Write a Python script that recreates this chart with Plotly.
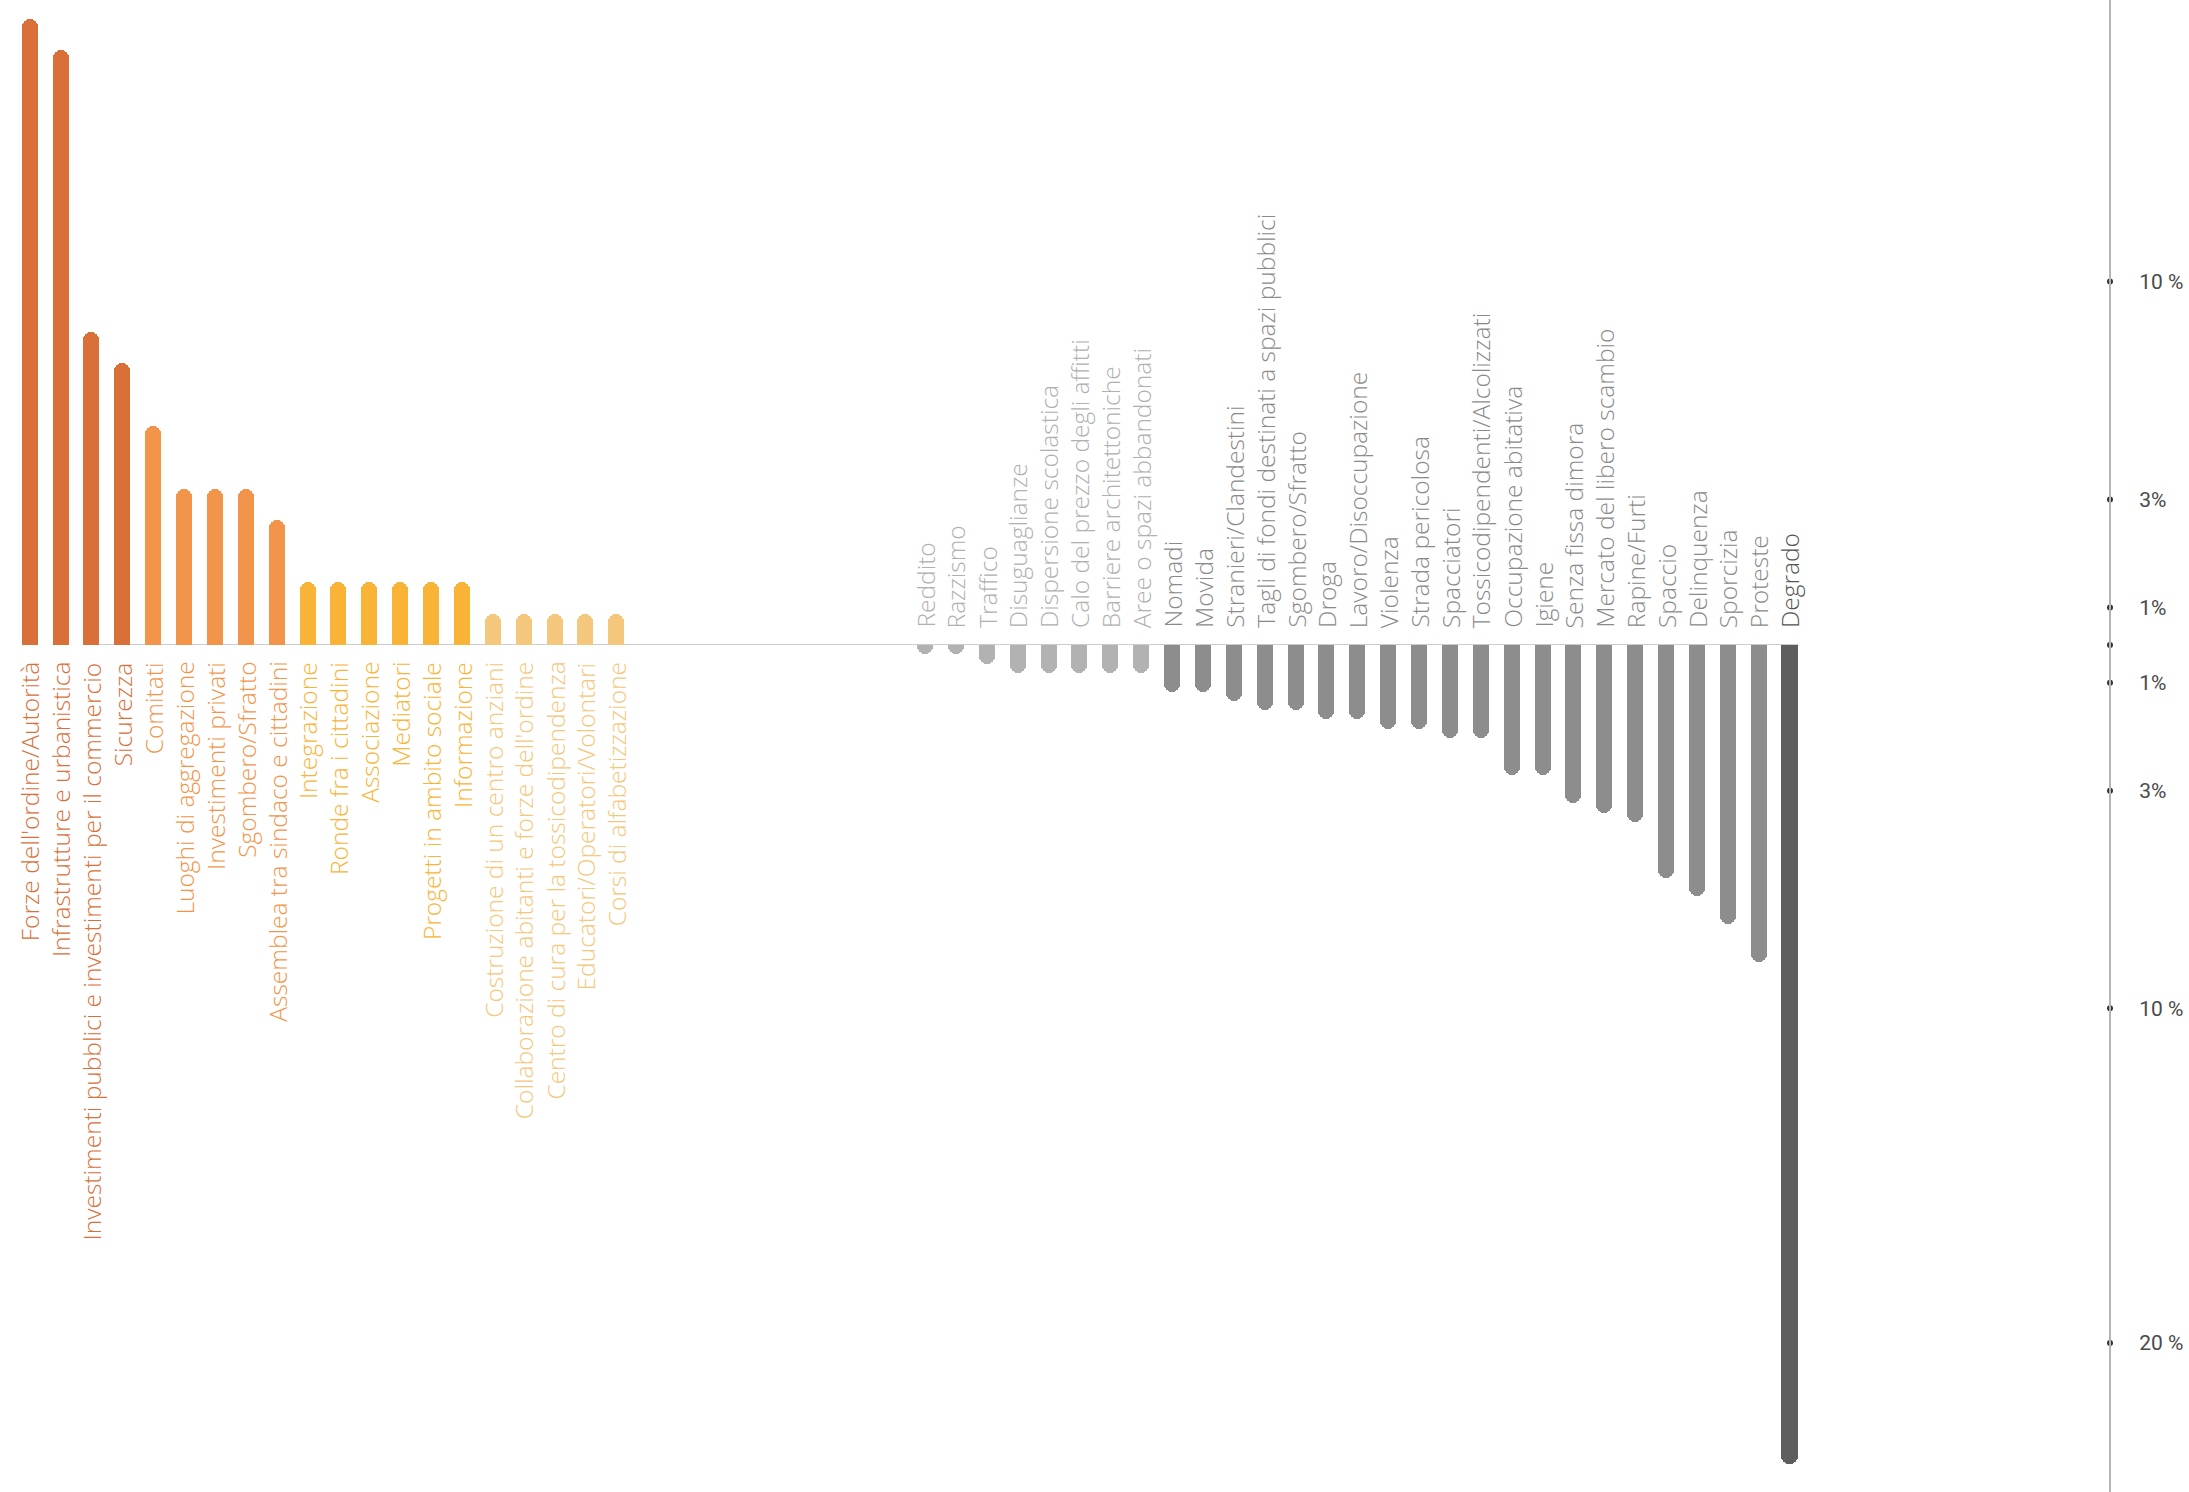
import plotly.graph_objects as go

# solutions (above the baseline) and problems (below), counts of mentions
SOLUTIONS = [
    "Forze dell'ordine/Autorità",
    "Infrastrutture e urbanistica",
    "Investimenti pubblici e investimenti per il commercio",
    "Sicurezza",
    "Comitati",
    "Luoghi di aggregazione",
    "Investimenti privati",
    "Sgombero/Sfratto",
    "Assemblea tra sindaco e cittadini",
    "Integrazione",
    "Ronde fra i cittadini",
    "Associazione",
    "Mediatori",
    "Progetti in ambito sociale",
    "Informazione",
    "Costruzione di un centro anziani",
    "Collaborazione abitanti e forze dell'ordine",
    "Centro di cura per la tossicodipendenza",
    "Educatori/Operatori/Volontari",
    "Corsi di alfabetizzazione",
]
SOLUTION_COUNTS = [20, 19, 10, 9, 7, 5, 5, 5, 4, 2, 2, 2, 2, 2, 2, 1, 1, 1, 1, 1]
SOLUTION_TIERS = [0, 0, 0, 0, 1, 1, 1, 1, 1, 2, 2, 2, 2, 2, 2, 3, 3, 3, 3, 3]

PROBLEMS = [
    "Reddito",
    "Razzismo",
    "Traffico",
    "Disuguaglianze",
    "Dispersione scolastica",
    "Calo del prezzo degli affitti",
    "Barriere architettoniche",
    "Aree o spazi abbandonati",
    "Nomadi",
    "Movida",
    "Stranieri/Clandestini",
    "Tagli di fondi destinati a spazi pubblici",
    "Sgombero/Sfratto",
    "Droga",
    "Lavoro/Disoccupazione",
    "Violenza",
    "Strada pericolosa",
    "Spacciatori",
    "Tossicodipendenti/Alcolizzati",
    "Occupazione abitativa",
    "Igiene",
    "Senza fissa dimora",
    "Mercato del libero scambio",
    "Rapine/Furti",
    "Spaccio",
    "Delinquenza",
    "Sporcizia",
    "Proteste",
    "Degrado",
]
PROBLEM_COUNTS = [1, 1, 2, 3, 3, 3, 3, 3, 5, 5, 6, 7, 7, 8, 8, 9, 9, 10, 10,
                  14, 14, 17, 18, 19, 25, 27, 30, 34, 88]
PROBLEM_TIERS = [0] * 8 + [1] * 20 + [2]

# right-hand scale marks (in mention units of each half)
UP_TICK_LABELS = ["1%", "3%", "10 %"]
UP_TICK_VALS = [1.2, 4.65, 11.61]
DOWN_TICK_LABELS = ["1%", "3%", "10 %", "20 %"]
DOWN_TICK_VALS = [-4.05, -15.65, -39.02, -74.97]

SOLUTION_PALETTE = ["#D9703A", "#F2954A", "#F9B437", "#F4C77C"]
PROBLEM_PALETTE = ["#B2B2B2", "#8D8D8D", "#5E5E5E"]
PROBLEM_TEXT_PALETTE = ["#B0B0B0", "#8A8A8A", "#555555"]

W, H = 2189, 1492
BASE_PX = 645          # baseline, px from top
SLOT_PX = 30.874       # distance between bars
FIRST_PX = 29.7        # centre of first bar
UP_PX = 31.3           # px per mention above
DOWN_PX = 9.31         # px per mention below
AXIS_PX = 2110
GAP_SLOTS = 9
LABEL_FONT = "Open Sans"
TICK_FONT = "Roboto"

sol_x = list(range(len(SOLUTIONS)))
prob_x = [len(SOLUTIONS) + GAP_SLOTS + i for i in range(len(PROBLEMS))]
prob_vals = [-c for c in PROBLEM_COUNTS]
axis_x = (AXIS_PX - FIRST_PX) / SLOT_PX

fig = go.Figure()
fig.add_trace(go.Bar(
    x=sol_x, y=SOLUTION_COUNTS, width=0.52, yaxis="y",
    marker=dict(color=[SOLUTION_PALETTE[t] for t in SOLUTION_TIERS],
                cornerradius="50%", line_width=0),
    hoverinfo="skip", showlegend=False,
))
fig.add_trace(go.Bar(
    x=prob_x, y=prob_vals, width=0.52, yaxis="y2",
    marker=dict(color=[PROBLEM_PALETTE[t] for t in PROBLEM_TIERS],
                cornerradius="50%", line_width=0),
    hoverinfo="skip", showlegend=False,
))

# scale dots on the right axis
fig.add_trace(go.Scatter(
    x=[axis_x] * (len(UP_TICK_VALS) + 1), y=UP_TICK_VALS + [0], mode="markers",
    marker=dict(size=6, color="#333333"), yaxis="y",
    hoverinfo="skip", showlegend=False, cliponaxis=False,
))
fig.add_trace(go.Scatter(
    x=[axis_x] * len(DOWN_TICK_VALS), y=DOWN_TICK_VALS, mode="markers",
    marker=dict(size=6, color="#333333"), yaxis="y2",
    hoverinfo="skip", showlegend=False, cliponaxis=False,
))

annotations = []
for x, name, tier in zip(sol_x, SOLUTIONS, SOLUTION_TIERS):
    annotations.append(dict(
        x=x, y=0, xref="x", yref="y2", text=name, textangle=-90,
        xanchor="center", yanchor="top", yshift=-15, showarrow=False,
        font=dict(family=LABEL_FONT, size=24.5, color=SOLUTION_PALETTE[tier], weight=300),
    ))
for x, name, tier in zip(prob_x, PROBLEMS, PROBLEM_TIERS):
    annotations.append(dict(
        x=x, y=0, xref="x", yref="y", text=name, textangle=-90,
        xanchor="center", yanchor="bottom", yshift=15, showarrow=False,
        font=dict(family=LABEL_FONT, size=24.5, color=PROBLEM_TEXT_PALETTE[tier], weight=300),
    ))

split = 1 - BASE_PX / H
axis_common = dict(
    side="right", anchor="free", position=AXIS_PX / W,
    showline=True, linecolor="#B4B4B4", linewidth=2,
    showgrid=False, zeroline=False, ticks="", ticklabelstandoff=24,
    tickfont=dict(family=TICK_FONT, size=21, color="#4A4A4A"),
    fixedrange=True,
)

fig.update_layout(
    width=W, height=H, autosize=False,
    margin=dict(l=0, r=0, t=0, b=0),
    paper_bgcolor="white", plot_bgcolor="white",
    barmode="overlay", bargap=0,
    xaxis=dict(range=[-FIRST_PX / SLOT_PX, (W - FIRST_PX) / SLOT_PX],
               visible=False, fixedrange=True),
    yaxis=dict(domain=[split, 1], range=[0, BASE_PX / UP_PX],
               tickvals=UP_TICK_VALS, ticktext=UP_TICK_LABELS, **axis_common),
    yaxis2=dict(domain=[0, split], range=[-(H - BASE_PX) / DOWN_PX, 0],
                tickvals=DOWN_TICK_VALS, ticktext=DOWN_TICK_LABELS, **axis_common),
    annotations=annotations,
    shapes=[dict(type="line", xref="x", yref="y", layer="below",
                 x0=1.73, x1=prob_x[-1] + 0.27, y0=0, y1=0,
                 line=dict(color="#CCCCCC", width=2))],
)

fig.write_html("out.html", config={"displayModeBar": False},
               post_script="document.body.style.margin='0';")
